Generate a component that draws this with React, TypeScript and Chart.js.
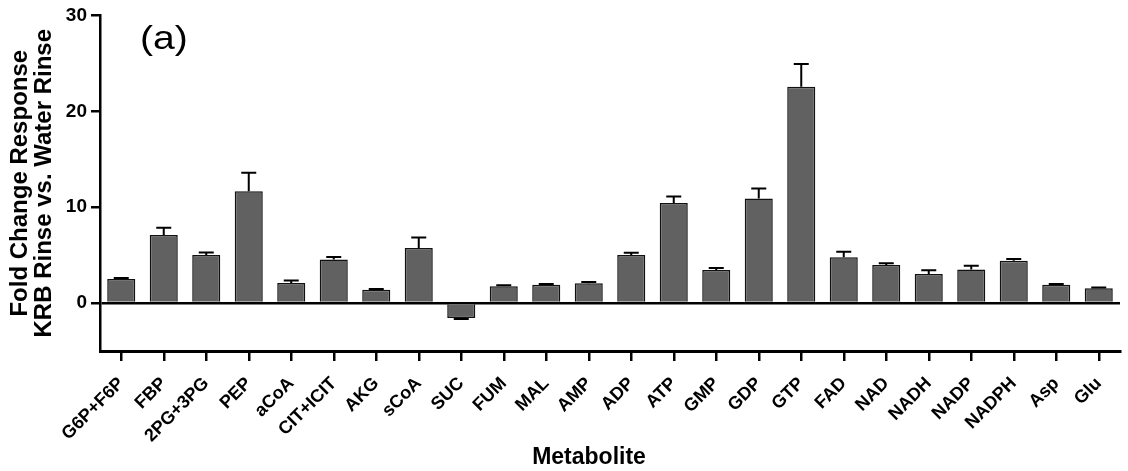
import React, { useEffect, useRef } from "react";
import { Chart, registerables } from "chart.js";

Chart.register(...registerables);

const metabolites = [
  "G6P+F6P", "FBP", "2PG+3PG", "PEP", "aCoA", "CIT+ICIT", "AKG", "sCoA", "SUC",
  "FUM", "MAL", "AMP", "ADP", "ATP", "GMP", "GDP", "GTP", "FAD", "NAD", "NADH",
  "NADP", "NADPH", "Asp", "Glu",
];

// Mean fold change (KRB rinse vs. water rinse)
const foldChange = [
  2.52, 7.1, 5.0, 11.65, 2.1, 4.53, 1.4, 5.75, -1.55,
  1.75, 1.9, 2.06, 5.0, 10.44, 3.46, 10.9, 22.57, 4.77, 3.98, 3.04,
  3.5, 4.4, 1.9, 1.55,
];

// Standard error of each mean
const standardError = [
  0.1, 0.75, 0.28, 1.95, 0.25, 0.27, 0.06, 1.1, 0.1,
  0.1, 0.1, 0.14, 0.25, 0.66, 0.19, 1.05, 2.36, 0.59, 0.17, 0.39,
  0.38, 0.2, 0.1, 0.06,
];

const yTickValues = [0, 10, 20, 30];
const yTitleLines = ["Fold Change Response", "KRB Rinse vs. Water Rinse"];
const xTitle = "Metabolite";
const panelLabel = "(a)";

const FONT = '"Liberation Sans", Arial, Helvetica, sans-serif';

const annotations = {
  id: "annotations",
  afterDatasetsDraw(chart: any) {
    const { ctx } = chart;
    const yScale = chart.scales.y;
    const meta = chart.getDatasetMeta(0);
    ctx.save();
    // error bars (mean + SE, drawn away from zero)
    ctx.strokeStyle = "#000";
    ctx.lineWidth = 2;
    meta.data.forEach((bar: any, i: number) => {
      const v = foldChange[i];
      const e = standardError[i];
      const end = v >= 0 ? v + e : v - e;
      const yEnd = yScale.getPixelForValue(end);
      const yStart = yScale.getPixelForValue(v);
      ctx.beginPath();
      ctx.moveTo(bar.x, yStart);
      ctx.lineTo(bar.x, yEnd);
      ctx.moveTo(bar.x - 7.5, yEnd);
      ctx.lineTo(bar.x + 7.5, yEnd);
      ctx.stroke();
    });

    ctx.fillStyle = "#000";
    // y-axis title, two rotated lines
    const midY = (chart.chartArea.top + chart.chartArea.bottom) / 2;
    ctx.font = `bold 24px ${FONT}`;
    ctx.textAlign = "center";
    ctx.textBaseline = "middle";
    [20, 44].forEach((x, i) => {
      ctx.save();
      ctx.translate(x, midY);
      ctx.rotate(-Math.PI / 2);
      ctx.fillText(yTitleLines[i], 0, 0);
      ctx.restore();
    });

    // x-axis title
    ctx.font = `bold 23px ${FONT}`;
    ctx.fillText(xTitle, 589, 458);

    // panel label
    ctx.save();
    ctx.font = `34px ${FONT}`;
    ctx.textAlign = "left";
    ctx.textBaseline = "alphabetic";
    ctx.translate(140, 49);
    ctx.scale(1.15, 1);
    ctx.fillText(panelLabel, 0, 0);
    ctx.restore();
    ctx.restore();
  },
};

export default function App() {
  const canvasRef = useRef<HTMLCanvasElement | null>(null);

  useEffect(() => {
    if (!canvasRef.current) return;
    const chart = new Chart(canvasRef.current, {
      type: "bar",
      data: {
        labels: metabolites,
        datasets: [
          {
            data: foldChange,
            backgroundColor: "#616161",
            borderColor: "#111",
            borderWidth: 1.5,
            categoryPercentage: 1,
            barPercentage: 0.66,
          },
        ],
      },
      options: {
        responsive: false,
        animation: false,
        layout: { padding: { top: 15, right: 8, left: 0, bottom: 0 } },
        plugins: { legend: { display: false }, tooltip: { enabled: false } },
        scales: {
          x: {
            offset: true,
            grid: {
              offset: false,
              drawOnChartArea: false,
              drawTicks: true,
              tickLength: 10,
              tickColor: "#000",
              lineWidth: 2.5,
            },
            border: { display: true, color: "#000", width: 3 },
            ticks: {
              autoSkip: false,
              maxRotation: 45,
              minRotation: 45,
              padding: 12,
              color: "#000",
              font: { family: FONT, size: 18, weight: "bold" },
            },
            afterFit: (s: any) => {
              s.height = 120;
            },
          },
          y: {
            min: -5,
            max: 30,
            afterBuildTicks: (s: any) => {
              s.ticks = yTickValues.map((value) => ({ value }));
            },
            grid: {
              drawTicks: true,
              tickLength: 9,
              tickColor: "#000",
              lineWidth: 2.5,
              color: (c: any) => (c.tick && c.tick.value === 0 ? "#000" : "rgba(0,0,0,0)"),
            },
            border: { display: true, color: "#000", width: 2.5 },
            ticks: {
              padding: 4,
              color: "#000",
              font: { family: FONT, size: 19, weight: "bold" },
            },
            afterFit: (s: any) => {
              s.width = 100;
            },
          },
        },
      },
      plugins: [annotations],
    });
    return () => chart.destroy();
  }, []);

  return (
    <div style={{ position: "absolute", left: 0, top: 0, width: 1128, height: 471, background: "#fff" }}>
      <canvas ref={canvasRef} width={1128} height={471} />
    </div>
  );
}
